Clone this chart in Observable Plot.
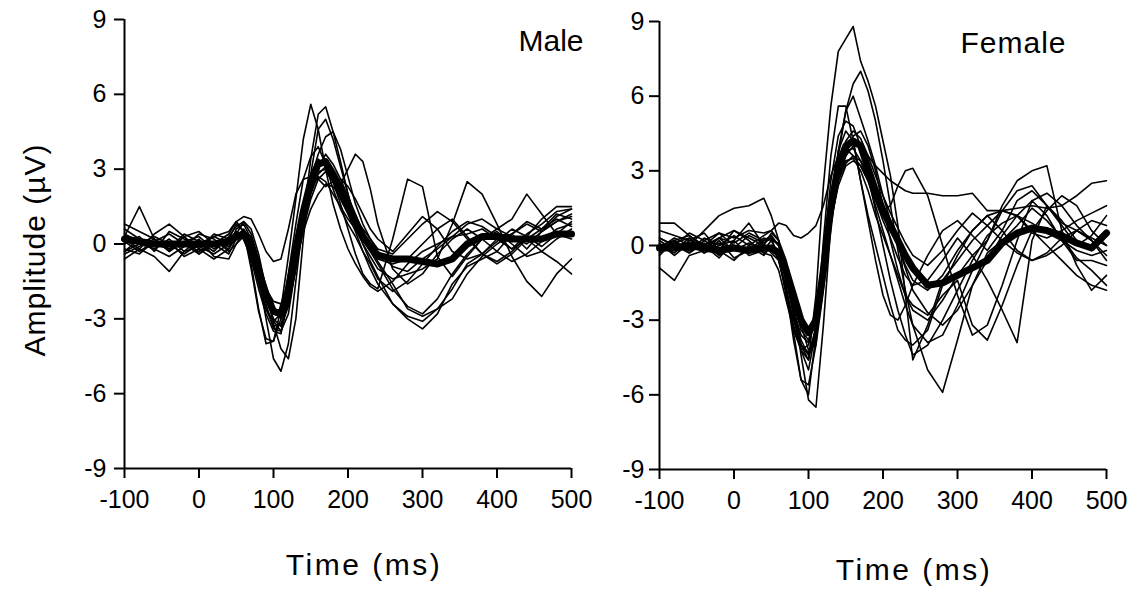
<!DOCTYPE html>
<html><head><meta charset="utf-8">
<script src="https://cdn.jsdelivr.net/npm/d3@7"></script>
<script src="https://cdn.jsdelivr.net/npm/@observablehq/plot@0.6"></script>
<style>
html,body{margin:0;padding:0;background:#fff;}
#wrap{position:relative;width:1133px;height:590px;overflow:hidden;background:#fff;}
#wrap svg{position:absolute;top:0;overflow:visible;}
</style></head><body><div id="wrap"></div>
<script>
// Time grid (ms)
const times = [-100,-80,-60,-40,-20,0,20,40, 50,60,70,80,90,100,110,120,130,140, 150,160,170,180,190,200,210,220,230,240, 260,280,300,320,340,360,380,400,420,440,460,480,500];
const xTicks = [-100,0,100,200,300,400,500];
const yTicks = [-9,-6,-3,0,3,6,9];
const panelTitles = ["Male", "Female"];
const xLabel = "Time (ms)";
const yLabel = "Amplitude (µV)";

// Male grand mean
const maleMean = [0.2,0.1,0.0,0.0,0.0,0.0,0.0,0.1, 0.3,0.4,-0.2,-1.1,-2.0,-2.7,-2.8,-1.8,-0.2,1.3, 2.5,3.2,3.3,2.8,2.2,1.5,0.9,0.3,-0.1,-0.45, -0.6,-0.6,-0.7,-0.8,-0.6,0.0,0.3,0.3,0.2,0.2,0.2,0.4,0.4];
// Male individual subjects
const male1 = [0.8,0.5,0.2,-0.3,0.1,0.3,-0.2,0.2, 0.8,0.5,-0.8,-2.6,-4.0,-3.9,-2.6,-0.5,1.8,4.2, 5.6,4.6,3.0,1.6,0.6,-0.2,-0.8,-1.3,-1.7,-1.9, -1.5,-0.8,-0.3,0.0,0.3,0.4,0.6,0.2,0.4,0.9,0.6,1.2,1.0];
const male2 = [-0.2,-0.4,0.1,-0.2,0.0,-0.3,0.1,-0.2, 0.3,0.6,0.1,-1.3,-3.0,-4.6,-5.1,-4.0,-1.5,1.0, 3.4,5.2,5.5,4.5,3.3,2.0,0.9,0.0,-0.7,-1.3, -2.4,-2.9,-3.1,-2.6,-1.8,-0.8,-0.4,0.2,-0.2,0.4,0.8,1.3,1.4];
const male3 = [0.0,0.3,-0.3,0.5,0.2,-0.1,-0.4,0.0, 0.4,0.9,0.6,-0.4,-1.8,-3.2,-4.2,-4.6,-3.0,0.2, 2.8,4.6,5.0,4.2,3.1,2.0,1.0,0.2,-0.3,-0.8, -1.8,-2.5,-2.8,-2.2,-1.2,-0.4,0.2,0.5,0.0,-0.5,-0.3,0.2,0.6];
const male4 = [0.4,0.1,-0.2,-0.5,-0.1,0.4,0.2,-0.3, 0.0,0.5,0.3,-0.7,-2.0,-3.1,-3.5,-2.8,-0.9,1.2, 2.6,3.6,4.3,4.5,3.8,2.7,1.6,0.8,0.2,-0.3, -0.9,-1.1,-0.6,-0.2,0.3,0.8,1.0,0.6,1.0,2.0,1.2,0.4,0.2];
const male5 = [-0.3,0.0,0.3,0.0,-0.4,0.0,0.3,0.0, 0.5,0.3,-0.4,-1.6,-2.6,-3.1,-2.8,-1.8,-0.5,1.2, 2.4,2.9,3.0,2.6,2.4,3.0,3.6,3.3,2.2,0.8, -1.0,-1.6,-1.2,-0.4,0.2,0.6,0.2,-0.3,-0.7,-0.4,0.1,0.6,0.8];
const male6 = [0.2,-0.2,0.4,0.8,0.3,-0.2,-0.6,-0.2, 0.6,0.8,0.2,-1.0,-2.2,-3.0,-3.3,-2.5,-1.0,0.6, 1.8,2.6,2.9,2.5,1.6,0.6,-0.4,-1.2,-1.6,-1.8, 0.2,2.6,2.3,-0.5,-1.3,-0.5,0.2,0.6,0.3,0.0,0.5,0.9,1.2];
const male7 = [-0.4,-0.1,0.2,-0.3,0.3,0.5,0.0,-0.4, 0.2,0.5,0.0,-1.2,-2.4,-3.4,-3.5,-2.2,-0.6,1.0, 2.2,2.7,2.5,2.0,1.5,1.0,0.6,0.0,-0.5,-1.0, -1.4,-1.2,-1.0,-0.6,0.8,2.5,2.0,0.8,-0.5,-1.5,-2.1,-1.2,-0.6];
const male8 = [0.3,0.0,-0.2,0.2,-0.3,-0.1,0.3,0.5, 0.9,1.1,1.0,0.4,-0.3,-0.7,-0.6,0.6,2.0,2.6, 2.7,2.6,2.3,2.5,2.6,2.3,1.8,1.2,0.6,0.2, -0.3,0.4,1.1,0.6,-0.3,-0.6,-0.4,0.1,0.6,0.3,-0.1,0.4,0.9];
const male9 = [0.6,0.2,-0.1,0.1,-0.5,-0.2,0.4,0.2, 0.5,0.2,-0.6,-1.8,-2.8,-3.5,-3.6,-2.2,-0.2,1.6, 2.8,3.4,3.1,2.5,1.8,1.2,0.5,-0.3,-1.0,-1.6, -2.4,-3.0,-3.4,-2.8,-1.6,-0.9,-0.6,-0.3,0.4,0.8,0.5,0.9,1.1];
const male10 = [0.3,1.5,0.2,-0.2,0.4,0.1,-0.3,0.3, 0.7,0.9,0.4,-0.6,-1.7,-2.6,-3.0,-2.5,-1.0,0.8, 2.0,2.8,3.1,2.9,2.3,1.5,0.8,0.2,-0.3,-0.6, -0.8,-0.6,0.0,0.6,1.0,0.3,-0.4,-0.8,-0.4,0.2,-0.3,-0.7,-1.2];
const male11 = [-0.6,-0.2,-0.5,-1.1,-0.3,0.2,-0.5,-0.6, 0.0,0.3,-0.3,-1.4,-2.6,-3.3,-3.2,-2.4,-0.8,0.9, 2.1,3.0,3.6,3.2,2.6,1.9,1.2,0.5,-0.2,-0.7, -1.6,-2.6,-2.9,-2.6,-2.2,-1.2,-0.5,0.0,0.4,-0.2,0.5,1.1,1.4];
const male12 = [0.1,-0.3,0.1,0.4,0.0,-0.4,0.0,0.4, 0.9,0.5,-1.0,-2.7,-3.8,-3.9,-3.0,-1.2,0.8,2.6, 3.5,3.9,3.2,2.2,1.4,0.8,0.3,-0.3,-0.8,-1.4, -1.9,-1.5,-0.8,-0.1,0.5,0.9,0.7,0.3,-0.2,0.2,0.6,1.0,0.7];
const male13 = [-0.3,0.2,0.0,-0.2,0.3,-0.4,0.1,-0.1, 0.2,0.4,0.0,-0.9,-1.8,-2.3,-2.4,-1.9,-0.8,0.5, 1.4,2.0,2.4,2.3,1.9,1.4,1.0,0.6,0.2,-0.2, -0.4,0.2,0.8,1.3,0.9,0.2,-0.4,-0.7,-0.3,0.3,1.0,1.5,1.5];

// Female grand mean
const femaleMean = [-0.1,-0.1,0.0,-0.1,-0.2,-0.1,-0.2,-0.1, -0.1,-0.3,-1.0,-2.0,-3.0,-3.5,-3.0,-1.0,1.5,3.2, 4.0,4.2,4.0,3.1,2.2,1.4,0.8,0.2,-0.4,-0.9, -1.6,-1.5,-1.2,-0.9,-0.6,0.1,0.5,0.7,0.6,0.4,0.1,-0.1,0.5];
// Female individual subjects
const female1 = [0.3,0.0,-0.3,0.2,0.5,0.0,-0.3,0.2, 0.3,-0.5,-2.0,-3.4,-4.0,-4.6,-2.0,2.4,5.6,7.8, 8.3,8.8,7.4,6.6,5.6,4.2,2.8,0.8,-2.0,-4.6, -3.2,-1.4,-0.6,0.2,0.8,1.4,1.2,0.5,0.3,0.6,1.0,1.3,1.6];
const female2 = [-0.2,0.2,0.4,-0.1,0.3,0.6,0.2,-0.3, 0.0,-0.2,-1.4,-2.8,-4.0,-4.4,-3.6,-1.6,1.2,3.6, 5.4,6.5,7.0,6.2,5.0,3.4,1.6,-0.2,-1.8,-3.2, -5.0,-5.9,-3.8,-1.6,-0.3,0.2,0.8,1.5,1.0,0.3,-0.5,-1.0,-1.6];
const female3 = [0.0,-0.3,0.2,0.5,-0.2,-0.6,0.0,0.4, 0.6,0.2,-1.6,-3.5,-5.4,-6.0,-3.6,0.2,3.6,5.6, 5.6,4.2,2.6,1.2,0.0,-1.2,-2.4,-3.4,-3.8,-4.0, -3.4,-1.6,-0.4,0.6,1.2,0.6,-0.2,-0.6,-0.3,0.3,0.6,0.2,-0.6];
const female4 = [-0.3,0.1,-0.2,0.3,0.0,0.2,-0.4,-0.2, 0.2,0.1,-0.8,-2.4,-4.4,-6.2,-6.5,-3.2,0.8,3.8, 5.4,6.0,5.1,4.2,3.2,2.0,1.0,0.0,-0.9,-1.8, -2.7,-3.2,-2.6,-1.6,-0.6,0.4,1.2,1.8,2.1,1.6,0.8,0.2,-0.4];
const female5 = [0.6,0.4,0.2,0.0,0.3,0.1,0.5,0.2, 0.3,0.0,-0.8,-2.2,-3.4,-3.8,-2.8,-0.8,1.4,2.9, 3.6,4.0,4.0,3.6,3.2,2.9,2.6,2.4,2.2,2.1, 2.1,2.0,2.0,2.1,1.4,1.4,1.5,1.6,1.5,1.6,2.0,2.5,2.6];
const female6 = [0.9,0.9,0.4,0.0,0.5,0.3,0.6,0.5, 0.6,0.9,0.8,0.4,0.3,0.5,0.8,1.6,2.8,3.6, 3.9,3.6,3.2,2.6,2.0,1.4,0.8,0.0,-0.8,-1.4, -1.8,-1.2,-0.2,0.6,1.2,1.4,1.2,0.6,0.0,-0.6,-1.2,-1.6,-1.8];
const female7 = [-0.1,0.3,0.0,0.6,1.2,1.5,1.6,1.9, 1.2,0.2,-1.2,-2.6,-3.8,-4.4,-3.8,-1.4,1.2,3.0, 4.2,4.6,4.3,3.6,2.8,2.0,1.3,0.7,0.1,-0.4, -0.8,-0.2,0.6,1.3,0.8,0.2,-0.3,-0.6,-0.4,0.0,0.6,1.0,0.8];
const female8 = [-0.9,-1.4,-0.4,-0.2,0.3,-0.2,0.1,-0.3, -0.4,-1.0,-2.2,-3.4,-4.2,-4.0,-2.6,-0.4,1.8,3.2, 3.8,3.9,3.4,2.6,1.6,0.6,-0.4,-1.4,-2.4,-3.2, -3.9,-3.6,-2.4,-1.0,0.2,1.4,2.2,2.4,1.6,0.9,0.6,0.3,0.0];
const female9 = [0.2,-0.2,0.3,-0.3,0.0,0.4,0.0,-0.4, 0.0,-0.6,-1.8,-3.0,-4.0,-4.3,-3.4,-1.0,1.2,2.6, 3.3,3.6,3.4,2.8,2.0,1.4,1.6,2.4,3.0,3.1, 2.0,0.0,-2.0,-3.6,-3.2,-1.6,0.2,1.8,1.2,0.2,-0.6,-0.6,-0.8];
const female10 = [-0.4,0.2,-0.2,0.0,-0.5,0.2,0.9,0.0, -0.3,-0.6,-1.8,-3.2,-4.2,-4.6,-3.2,-0.8,1.4,2.8, 3.4,3.5,3.0,2.2,1.2,0.4,-0.4,-1.2,-2.0,-2.6, -3.0,-2.2,-1.2,-0.4,0.2,1.6,2.6,3.0,3.2,0.6,-0.8,-1.8,-1.2];
const female11 = [0.0,0.2,-0.3,0.1,-0.4,0.0,-0.3,0.2, 0.4,0.0,-1.2,-2.6,-3.6,-3.9,-3.0,-1.0,1.0,2.4, 3.2,3.4,3.2,2.6,1.8,1.0,0.3,-0.5,-1.2,-1.6, -1.4,-0.6,0.3,-0.4,-1.4,-2.6,-3.9,0.2,1.6,1.0,0.2,-0.2,0.6];
const female12 = [0.3,0.0,0.5,0.2,-0.2,0.6,0.3,0.0, 0.5,0.2,-0.6,-1.8,-3.2,-4.2,-4.0,-1.8,0.8,2.6, 3.6,4.4,4.6,4.0,3.0,1.6,0.2,-1.0,-2.0,-2.4, -2.8,-2.0,-1.4,-3.2,-3.8,-2.4,-0.8,0.6,1.4,2.0,1.6,0.6,0.0];
const female13 = [0.1,-0.4,0.1,-0.3,0.2,-0.5,-0.2,0.3, 0.2,-0.4,-1.8,-3.8,-5.4,-5.6,-4.0,-0.4,2.6,4.4, 5.0,4.8,4.0,2.8,1.4,0.0,-1.4,-2.6,-3.6,-4.4, -4.0,-3.0,-1.8,-0.6,0.4,0.9,1.2,0.9,0.5,0.2,-0.2,-0.4,-0.2];
const female14 = [-0.2,0.1,0.3,-0.2,0.1,-0.1,0.4,0.1, 0.3,0.0,-1.3,-2.8,-4.2,-5.0,-3.4,-0.6,2.0,3.8, 4.6,4.2,2.6,1.0,-0.6,-2.0,-2.8,-3.0,-2.4,-1.6, -0.4,0.6,1.0,0.4,-0.2,0.6,1.8,2.2,1.6,0.8,0.0,0.4,1.2];

const maleSubjects = [male1,male2,male3,male4,male5,male6,male7,male8,male9,male10,male11,male12,male13];
const femaleSubjects = [female1,female2,female3,female4,female5,female6,female7,female8,female9,female10,female11,female12,female13,female14];

const FONT = "'Liberation Sans', Arial, sans-serif";

function makePanel(o) {
  const rows = o.subjects.flatMap((vals, i) => vals.map((v, j) => ({t: times[j], v, id: i})));
  const meanRows = o.mean.map((v, j) => ({t: times[j], v}));
  const marks = [
    Plot.line(rows, {x: "t", y: "v", z: "id", stroke: "#000", strokeWidth: 1.6}),
    Plot.line(meanRows, {x: "t", y: "v", stroke: "#000", strokeWidth: 7, strokeLinecap: "round", strokeLinejoin: "round"}),
    Plot.ruleX([-100], {stroke: "#000", strokeWidth: 2}),
    Plot.ruleY([-9], {stroke: "#000", strokeWidth: 2}),
    Plot.axisX(xTicks, {tickSize: 10, tickPadding: 12, strokeWidth: 2, fontSize: 25, label: null, tickFormat: d => String(d)}),
    Plot.axisY(yTicks, {tickSize: 10, tickPadding: o.yPad, strokeWidth: 2, fontSize: 25, label: null, tickFormat: d => String(d)}),
    Plot.text([o.title], {text: d => d, frameAnchor: "top-right", textAnchor: "end", lineAnchor: "top", dx: o.titleDx, dy: 10, fontSize: 30}),
    Plot.text([xLabel], {text: d => d, frameAnchor: "bottom", textAnchor: "middle", lineAnchor: "top", dx: o.xLabelDx, dy: o.xLabelDy, fontSize: 30})
  ];
  if (o.showYLabel) marks.push(Plot.text([yLabel], {text: d => d, frameAnchor: "left", textAnchor: "middle", lineAnchor: "middle", rotate: -90, dx: -89, dy: 6, fontSize: 30}));
  const svg = Plot.plot({
    width: o.width, height: 590,
    marginLeft: o.ml, marginRight: o.mr, marginTop: o.mt, marginBottom: o.mb,
    x: {domain: [-100, 500]},
    y: {domain: [-9, 9]},
    style: {fontFamily: FONT, background: "transparent", color: "#000", overflow: "visible"},
    marks
  });
  // letter spacing for the wide-set labels
  const spacing = {[xLabel]: "2.5px", [yLabel]: "1px", "Female": "1px"};
  d3.select(svg).selectAll("text").each(function() {
    const s = spacing[this.textContent];
    if (s) this.setAttribute("letter-spacing", s);
  });
  svg.style.left = o.left + "px";
  return svg;
}

const wrap = document.getElementById("wrap");
wrap.appendChild(makePanel({subjects: maleSubjects, mean: maleMean, title: panelTitles[0], left: 0, width: 590, ml: 124, mr: 19, mt: 19, mb: 122, yPad: 8, titleDx: 12, xLabelDx: 16, xLabelDy: 85, showYLabel: true}));
wrap.appendChild(makePanel({subjects: femaleSubjects, mean: femaleMean, title: panelTitles[1], left: 590, width: 543, ml: 69, mr: 27, mt: 21, mb: 121, yPad: 5, titleDx: -40, xLabelDx: 31, xLabelDy: 89, showYLabel: false}));
</script>
</body></html>
